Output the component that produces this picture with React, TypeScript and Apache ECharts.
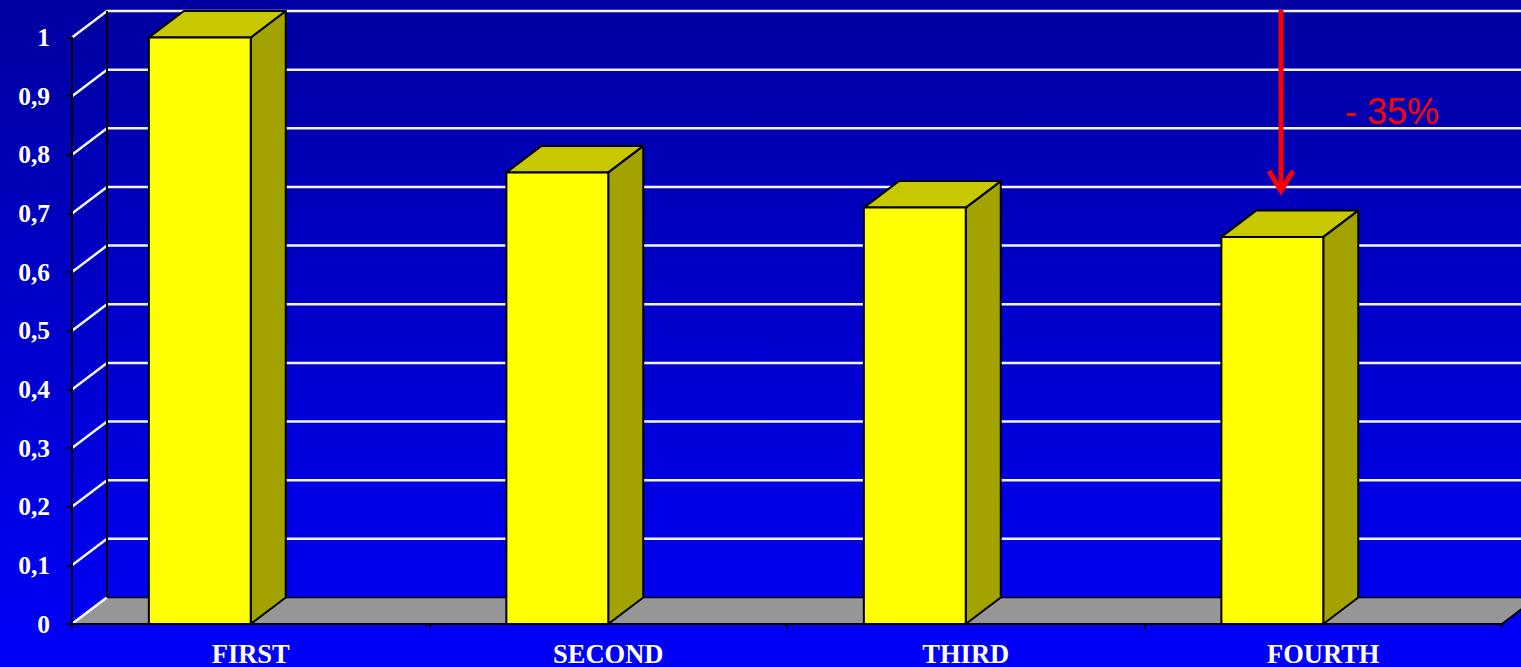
import React, { useEffect, useRef } from "react";
import * as echarts from "echarts";

const categories = ["FIRST", "SECOND", "THIRD", "FOURTH"];
const values = [1.0, 0.77, 0.71, 0.66];
const yTicks = [0, 0.1, 0.2, 0.3, 0.4, 0.5, 0.6, 0.7, 0.8, 0.9, 1.0];
const annotationText = "- 35%";

const DX = 35;
const DY = -26.5;
const BAR_FRAC = 0.285;

export default function App() {
  const ref = useRef<HTMLDivElement>(null);
  useEffect(() => {
    document.body.style.margin = "0";
    const chart = echarts.init(ref.current!, null, { renderer: "svg" });
    const option: any = {
      animation: false,
      backgroundColor: "transparent",
      grid: { left: 72, right: 19, top: 37.5, bottom: 42.5, containLabel: false },
      xAxis: {
        type: "category",
        data: categories,
        z: 10,
        axisLine: { show: true, lineStyle: { color: "#000", width: 2 } },
        axisTick: { show: true, length: 5, lineStyle: { color: "#000", width: 1.5 } },
        axisLabel: {
          color: "#fff",
          fontFamily: "Liberation Serif",
          fontWeight: "bold",
          fontSize: 26.5,
          margin: 16,
        },
        splitLine: { show: false },
      },
      yAxis: {
        type: "value",
        min: 0,
        max: 1,
        interval: 0.1,
        z: 10,
        axisLine: { show: true, lineStyle: { color: "#000", width: 2 } },
        axisTick: { show: true, length: 6, lineStyle: { color: "#000", width: 1.5 } },
        axisLabel: {
          color: "#fff",
          fontFamily: "Liberation Serif",
          fontWeight: "bold",
          fontSize: 25.5,
          margin: 22,
          formatter: (v: number) => String(Math.round(v * 10) / 10).replace(".", ","),
        },
        splitLine: { show: false },
      },
      series: [
        {
          type: "custom",
          z: 1,
          data: yTicks.map((v) => [0, v]),
          renderItem: (params: any, api: any) => {
            const cs = params.coordSys;
            const y = api.coord([0, api.value(1)])[1];
            const x0 = cs.x;
            const x1 = cs.x + cs.width;
            const pts =
              api.value(1) === 0
                ? [[x0, y], [x0 + DX, y + DY]]
                : [[x0, y], [x0 + DX, y + DY], [x1 + DX, y + DY]];
            return {
              type: "polyline",
              shape: { points: pts },
              style: { stroke: "#F4F4FF", lineWidth: 2.5, fill: null },
            };
          },
        },
        {
          type: "custom",
          z: 2,
          data: [[0, 0]],
          renderItem: (params: any, api: any) => {
            const cs = params.coordSys;
            const y0 = api.coord([0, 0])[1];
            const yTop = api.coord([0, 1])[1];
            const x0 = cs.x;
            const x1 = cs.x + cs.width;
            return {
              type: "group",
              children: [
                {
                  type: "polygon",
                  shape: { points: [[x0, y0], [x0 + DX, y0 + DY], [x1 + DX, y0 + DY], [x1, y0]] },
                  style: { fill: "#969696", stroke: null },
                },
                {
                  type: "line",
                  shape: { x1: x0 + DX, y1: y0 + DY, x2: x1 + DX, y2: y0 + DY },
                  style: { stroke: "#000", lineWidth: 1.5 },
                },
                {
                  type: "line",
                  shape: { x1: x1, y1: y0, x2: x1 + DX, y2: y0 + DY },
                  style: { stroke: "#000", lineWidth: 2 },
                },
                {
                  type: "line",
                  shape: { x1: x0, y1: y0, x2: x0 + DX, y2: y0 + DY },
                  style: { stroke: "#F4F4FF", lineWidth: 2.5 },
                },
                {
                  type: "line",
                  shape: { x1: x0 + DX, y1: yTop + DY, x2: x0 + DX, y2: y0 + DY },
                  style: { stroke: "#000", lineWidth: 2 },
                },
              ],
            };
          },
        },
        {
          type: "custom",
          z: 3,
          data: values.map((v, i) => [i, v]),
          renderItem: (params: any, api: any) => {
            const i = api.value(0);
            const v = api.value(1);
            const top = api.coord([i, v]);
            const bottom = api.coord([i, 0]);
            const w = api.size([1, 0])[0] * BAR_FRAC;
            const xr = top[0];
            const xl = xr - w;
            const yt = top[1];
            const yb = bottom[1];
            const line = { stroke: "#000", lineWidth: 2, lineJoin: "round" };
            return {
              type: "group",
              children: [
                {
                  type: "polygon",
                  shape: { points: [[xr, yt], [xr + DX, yt + DY], [xr + DX, yb + DY], [xr, yb]] },
                  style: { fill: "#A3A300", ...line },
                },
                {
                  type: "polygon",
                  shape: { points: [[xl, yt], [xl + DX, yt + DY], [xr + DX, yt + DY], [xr, yt]] },
                  style: { fill: "#C8C800", ...line },
                },
                {
                  type: "rect",
                  shape: { x: xl, y: yt, width: w, height: yb - yt },
                  style: { fill: "#FFFF00", ...line },
                },
              ],
            };
          },
        },
      ],
      graphic: [
        {
          type: "line",
          z: 20,
          shape: { x1: 1281, y1: 10, x2: 1281, y2: 190 },
          style: { stroke: "#FF0000", lineWidth: 5 },
        },
        {
          type: "polyline",
          z: 20,
          shape: { points: [[1269, 171], [1281, 191], [1293, 171]] },
          style: { stroke: "#FF0000", lineWidth: 5, fill: null, lineJoin: "miter" },
        },
        {
          type: "text",
          z: 20,
          x: 1345,
          y: 111,
          style: {
            text: annotationText,
            fill: "#FF0000",
            font: "36px 'Liberation Sans', Arial, sans-serif",
            textAlign: "left",
            textVerticalAlign: "middle",
          },
        },
      ],
    };
    chart.setOption(option);
    return () => chart.dispose();
  }, []);
  return (
    <div
      ref={ref}
      style={{
        position: "absolute",
        left: 0,
        top: 0,
        width: 1521,
        height: 667,
        background: "linear-gradient(to bottom, #0000A0 0%, #0000FA 100%)",
      }}
    />
  );
}
